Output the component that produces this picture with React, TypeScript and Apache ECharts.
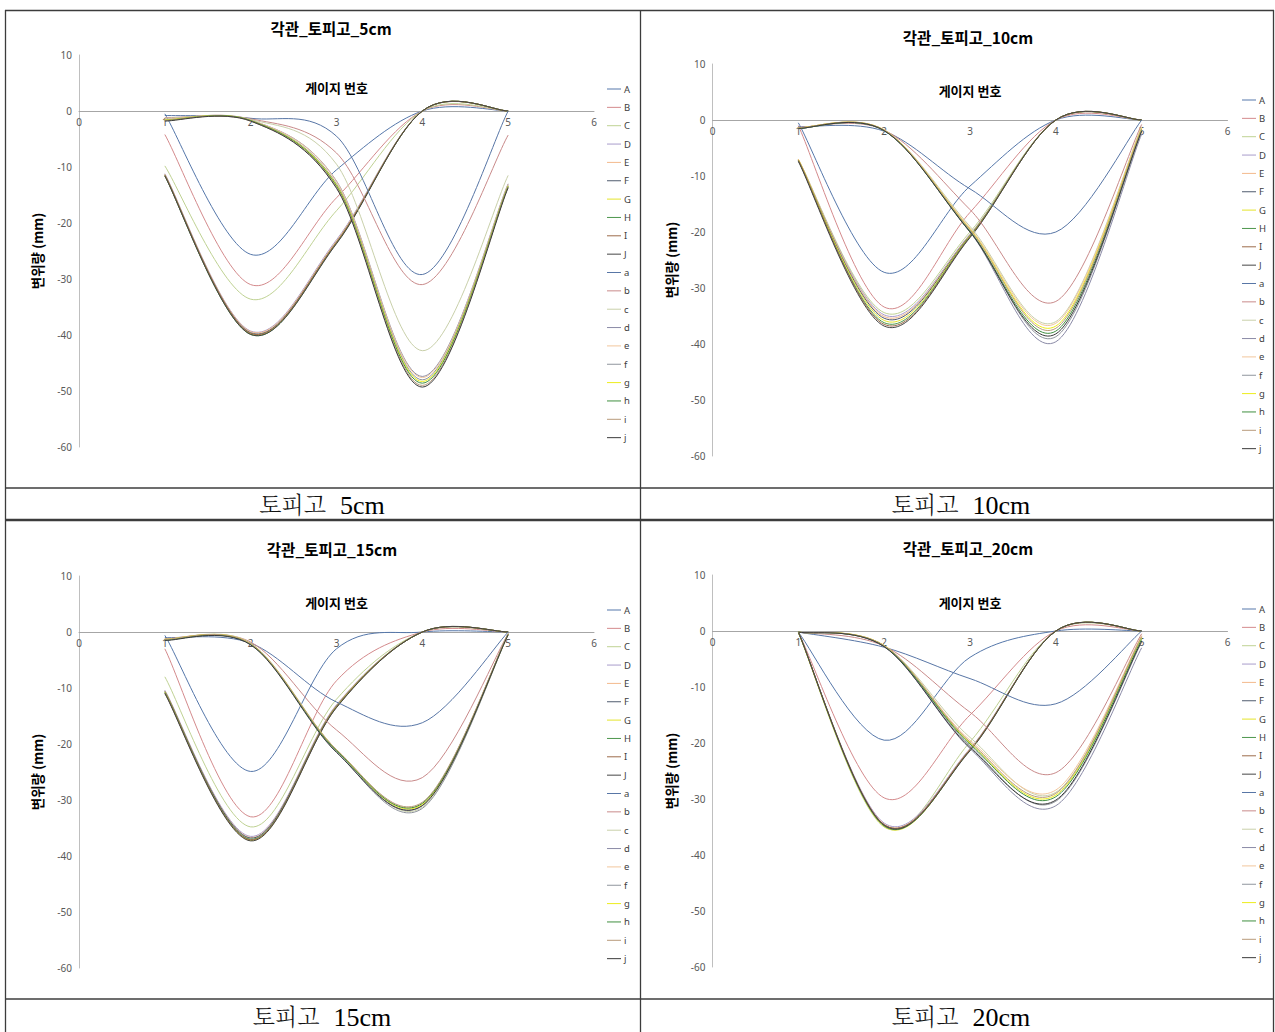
import React, { useEffect, useRef } from "react";
import * as echarts from "echarts";

// ---------- data ----------
const GAUGE_X = [1, 2, 3, 4, 5];
const X_MIN = 0;
const X_MAX = 6;
const Y_MIN = -60;
const Y_MAX = 10;
const Y_STEP = 10;

const SERIES_NAMES = ["A", "B", "C", "D", "E", "F", "G", "H", "I", "J", "a", "b", "c", "d", "e", "f", "g", "h", "i", "j"];
const SERIES_COLORS = [
  "#5577AA", "#D48A8C", "#BFD293", "#A89CCB", "#F3B98C", "#4F5B6E", "#E4E42A", "#4C964C", "#9C6B4A", "#454545",
  "#5876A6", "#C98A8A", "#C9D0AA", "#8A8AA6", "#F2C69C", "#8F949C", "#EDED1A", "#3F8F3F", "#B89A7A", "#3A3A3A",
];

const CHART_TITLES = ["각관_토피고_5cm", "각관_토피고_10cm", "각관_토피고_15cm", "각관_토피고_20cm"];
const CAPTIONS = [
  ["토피고", "5cm"],
  ["토피고", "10cm"],
  ["토피고", "15cm"],
  ["토피고", "20cm"],
];
const X_AXIS_NAME = "게이지 번호";
const Y_AXIS_NAME = "변위량 (mm)";

// 토피고 5cm : A–J (upper) and a–j (lower), values at gauge 1..5
const upper5 = [
  [-0.5, -25.6, -10.5, 0, 0],
  [-4.2, -31.0, -15.5, 0, 0],
  [-9.8, -33.6, -17.8, 0, 0],
  [-11.2, -39.3, -23.0, 0, 0],
  [-11.3, -39.4, -23.2, 0, 0],
  [-11.4, -39.6, -23.4, 0, 0],
  [-11.5, -39.8, -23.5, 0, 0],
  [-11.6, -39.9, -23.6, 0, 0],
  [-11.5, -39.7, -23.5, 0, 0],
  [-11.6, -39.9, -23.7, 0, 0],
];
const lower5 = [
  [-0.8, -1.3, -4.5, -29.2, 0],
  [-1.2, -1.4, -7.5, -31.0, -4.3],
  [-1.3, -1.5, -9.5, -42.8, -11.5],
  [-1.5, -1.6, -12.5, -47.4, -13.0],
  [-1.5, -1.6, -12.6, -47.6, -13.1],
  [-1.6, -1.7, -13.0, -48.0, -13.3],
  [-1.6, -1.7, -13.2, -48.3, -13.4],
  [-1.7, -1.7, -13.4, -48.6, -13.5],
  [-1.7, -1.8, -13.6, -49.0, -13.6],
  [-1.8, -1.8, -13.8, -49.3, -13.7],
];

// 토피고 10cm
const upper10 = [
  [-0.5, -27.2, -11.8, 0, 0],
  [-1.0, -33.4, -16.5, 0, 0],
  [-7.0, -34.4, -20.0, 0, 0],
  [-7.1, -34.8, -20.4, 0, 0],
  [-7.0, -35.1, -20.5, 0, 0],
  [-7.2, -35.4, -20.6, 0, 0],
  [-7.1, -35.8, -20.7, 0, 0],
  [-7.3, -36.2, -20.8, 0, 0],
  [-7.2, -36.5, -20.9, 0, 0],
  [-7.4, -36.8, -21.0, 0, 0],
];
const lower10 = [
  [-1.2, -2.0, -12.3, -20.0, 0],
  [-1.3, -1.8, -16.0, -32.4, -0.8],
  [-1.4, -1.8, -19.0, -36.0, -1.2],
  [-1.5, -1.9, -20.0, -39.6, -2.5],
  [-1.4, -1.8, -19.3, -36.3, -1.3],
  [-1.5, -1.9, -19.8, -38.7, -2.0],
  [-1.4, -1.8, -19.5, -36.8, -1.5],
  [-1.5, -1.9, -19.9, -37.7, -1.8],
  [-1.4, -1.8, -19.6, -37.2, -1.6],
  [-1.5, -1.9, -20.0, -38.2, -2.0],
];

// 토피고 15cm
const upper15 = [
  [-0.6, -24.9, -3.0, 0, 0],
  [-3.0, -33.0, -8.7, 0, 0],
  [-8.0, -34.8, -12.0, 0, 0],
  [-10.4, -36.5, -13.0, 0, 0],
  [-10.5, -36.7, -13.1, 0, 0],
  [-10.6, -36.8, -13.2, 0, 0],
  [-10.7, -37.2, -13.3, 0, 0],
  [-10.8, -37.0, -13.4, 0, 0],
  [-10.9, -37.1, -13.4, 0, 0],
  [-11.0, -37.3, -13.5, 0, 0],
];
const lower15 = [
  [-1.0, -2.0, -12.5, -16.2, 0],
  [-1.2, -1.8, -17.5, -26.0, -0.3],
  [-1.3, -2.0, -21.0, -31.3, -0.5],
  [-1.4, -2.2, -21.2, -31.0, -0.3],
  [-1.3, -2.1, -21.0, -30.6, -0.3],
  [-1.4, -2.2, -21.4, -31.5, -0.5],
  [-1.3, -2.1, -21.1, -30.8, -0.4],
  [-1.4, -2.2, -21.2, -30.6, -0.4],
  [-1.3, -2.1, -21.0, -30.4, -0.3],
  [-1.5, -2.3, -21.5, -31.0, -0.5],
];

// 토피고 20cm
const upper20 = [
  [-0.2, -19.5, -4.7, 0, 0],
  [-0.2, -29.8, -15.0, 0, 0],
  [-0.3, -35.0, -19.8, 0, 0],
  [-0.2, -34.3, -21.0, 0, 0],
  [-0.2, -34.5, -21.1, 0, 0],
  [-0.2, -34.6, -21.2, 0, 0],
  [-0.3, -34.9, -21.3, 0, 0],
  [-0.2, -34.8, -21.3, 0, 0],
  [-0.2, -34.6, -21.2, 0, 0],
  [-0.2, -34.7, -21.4, 0, 0],
];
const lower20 = [
  [-0.2, -2.9, -8.5, -13.0, 0],
  [-0.2, -2.7, -14.5, -25.3, -0.5],
  [-0.2, -2.6, -19.0, -28.8, -1.0],
  [-0.2, -2.8, -21.0, -31.2, -3.0],
  [-0.2, -2.6, -19.5, -28.4, -0.8],
  [-0.2, -2.7, -20.5, -30.4, -2.0],
  [-0.2, -2.6, -20.0, -29.3, -1.2],
  [-0.2, -2.7, -20.2, -29.6, -1.5],
  [-0.2, -2.6, -19.8, -29.0, -1.0],
  [-0.2, -2.8, -20.8, -30.2, -1.8],
];

const PANEL_DATA = [
  [upper5, lower5],
  [upper10, lower10],
  [upper15, lower15],
  [upper20, lower20],
];

// ---------- layout ----------
const W = 1275;
const H = 1032;
const PANELS = [
  { left: 79, top: 55, legendLeft: 607, legendTop: 83, titleX: 331, titleY: 28, capX: 322, capY: 503, nameGap: -30 },
  { left: 712.5, top: 64, legendLeft: 1242, legendTop: 94, titleX: 968, titleY: 37, capX: 961, capY: 503, nameGap: -36 },
  { left: 79, top: 576, legendLeft: 607, legendTop: 604, titleX: 332, titleY: 549, capX: 322, capY: 1015, nameGap: -36 },
  { left: 712.5, top: 575, legendLeft: 1242, legendTop: 603, titleX: 968, titleY: 548, capX: 961, capY: 1015, nameGap: -35 },
];
const GRID_W = 515;
const GRID_H = 392;
// x axis crosses the value axis at 0: distance of the zero line above the grid bottom
const X_AXIS_OFFSET = -(GRID_H * (0 - Y_MIN)) / (Y_MAX - Y_MIN);

const KR = "'Noto Sans CJK KR', 'Noto Sans', sans-serif";
const NARROW = "'Liberation Sans Narrow', 'Noto Sans', sans-serif";

// Excel-like smoothed line (Catmull-Rom via cubic bezier), drawn in pixel space from axis coords
function makeRender(ys: number[], color: string) {
  return (params: any, api: any) => {
    const i = params.dataIndex;
    const n = ys.length;
    if (i >= n - 1) return { type: "group", children: [] };
    const c = (k: number) => api.coord([GAUGE_X[k], ys[k]]);
    const p0 = c(Math.max(i - 1, 0));
    const p1 = c(i);
    const p2 = c(i + 1);
    const p3 = c(Math.min(i + 2, n - 1));
    return {
      type: "bezierCurve",
      silent: true,
      shape: {
        x1: p1[0],
        y1: p1[1],
        x2: p2[0],
        y2: p2[1],
        cpx1: p1[0] + (p2[0] - p0[0]) / 6,
        cpy1: p1[1] + (p2[1] - p0[1]) / 6,
        cpx2: p2[0] - (p3[0] - p1[0]) / 6,
        cpy2: p2[1] - (p3[1] - p1[1]) / 6,
      },
      style: { stroke: color, lineWidth: 1, fill: "none" },
    };
  };
}

function buildOption() {
  const grid: any[] = [];
  const xAxis: any[] = [];
  const yAxis: any[] = [];
  const legend: any[] = [];
  const series: any[] = [];
  const graphic: any[] = [];

  PANELS.forEach((p, pi) => {
    grid.push({ left: p.left, top: p.top, width: GRID_W, height: GRID_H, containLabel: false });
    xAxis.push({
      gridIndex: pi,
      type: "value",
      position: "bottom",
      offset: X_AXIS_OFFSET,
      min: X_MIN,
      max: X_MAX,
      interval: 1,
      axisLine: { show: true, onZero: false, lineStyle: { color: "#A6A6A6", width: 1 } },
      axisTick: { show: false },
      axisLabel: { fontSize: 10, color: "#595959", margin: 6, fontFamily: NARROW },
      splitLine: { show: false },
      name: X_AXIS_NAME,
      nameLocation: "middle",
      nameGap: p.nameGap,
      nameTextStyle: { fontSize: 13, fontWeight: "bold", color: "#000", fontFamily: KR },
    });
    yAxis.push({
      gridIndex: pi,
      type: "value",
      min: Y_MIN,
      max: Y_MAX,
      interval: Y_STEP,
      axisLine: { show: true, onZero: false, lineStyle: { color: "#BFBFBF", width: 1 } },
      axisTick: { show: false },
      axisLabel: { fontSize: 10, color: "#595959", margin: 7, fontFamily: NARROW },
      splitLine: { show: false },
      name: Y_AXIS_NAME,
      nameLocation: "middle",
      nameGap: 35,
      nameRotate: 90,
      nameTextStyle: { fontSize: 13.5, fontWeight: "bold", color: "#000", fontFamily: KR },
    });
    legend.push({
      orient: "vertical",
      left: p.legendLeft,
      top: p.legendTop,
      padding: 0,
      itemWidth: 14,
      itemHeight: 1,
      itemGap: 6.35,
      icon: "rect",
      selectedMode: false,
      textStyle: { fontSize: 9.5, lineHeight: 12, color: "#404040", fontFamily: NARROW, padding: [0, 0, 0, -2] },
      data: SERIES_NAMES,
    });
    PANEL_DATA[pi].forEach((group, gi) => {
      group.forEach((ys, k) => {
        const idx = gi * 10 + k;
        const color = SERIES_COLORS[idx];
        series.push({
          type: "custom",
          name: SERIES_NAMES[idx],
          coordinateSystem: "cartesian2d",
          xAxisIndex: pi,
          yAxisIndex: pi,
          data: GAUGE_X.map((x, j) => [x, ys[j]]),
          encode: { x: 0, y: 1 },
          itemStyle: { color },
          renderItem: makeRender(ys, color),
          silent: true,
          clip: false,
        });
      });
    });
    graphic.push({
      type: "text",
      x: p.titleX,
      y: p.titleY,
      style: {
        text: CHART_TITLES[pi],
        fill: "#000",
        font: `bold 15.5px ${KR}`,
        textAlign: "center",
        textVerticalAlign: "middle",
      },
    });
    graphic.push({
      type: "text",
      x: p.capX,
      y: p.capY,
      style: {
        text: `{k|${CAPTIONS[pi][0]}}{n|${CAPTIONS[pi][1]}}`,
        textAlign: "center",
        textVerticalAlign: "middle",
        rich: {
          k: { fontSize: 23, fontFamily: "'Noto Serif CJK KR', 'Noto Sans CJK KR', serif", fill: "#111", fontWeight: 300 },
          n: { fontSize: 26, fontFamily: "'Liberation Serif', 'DejaVu Serif', serif", fill: "#000", padding: [4, 0, 0, 14] },
        },
      },
    });
  });

  // table borders
  const lineStyle = { stroke: "#3C3C3C", lineWidth: 1.3 };
  const hLines = [
    { y: 10.5, w: 1.3 },
    { y: 488, w: 1.3 },
    { y: 520, w: 2.5 },
    { y: 999, w: 1.3 },
  ];
  hLines.forEach((l) => {
    graphic.push({ type: "line", shape: { x1: 5, y1: l.y, x2: 1274, y2: l.y }, style: { ...lineStyle, lineWidth: l.w } });
  });
  [5.5, 640.5, 1273.5].forEach((x) => {
    graphic.push({ type: "line", shape: { x1: x, y1: 10, x2: x, y2: H }, style: lineStyle });
  });

  return {
    animation: false,
    backgroundColor: "#FFFFFF",
    grid,
    xAxis,
    yAxis,
    legend,
    series,
    graphic,
  };
}

export default function App() {
  const ref = useRef<HTMLDivElement>(null);
  useEffect(() => {
    if (!ref.current) return;
    const chart = echarts.init(ref.current, undefined, { renderer: "svg", width: W, height: H });
    chart.setOption(buildOption() as any);
    return () => chart.dispose();
  }, []);
  return <div ref={ref} style={{ position: "absolute", left: 0, top: 0, width: W, height: H }} />;
}
